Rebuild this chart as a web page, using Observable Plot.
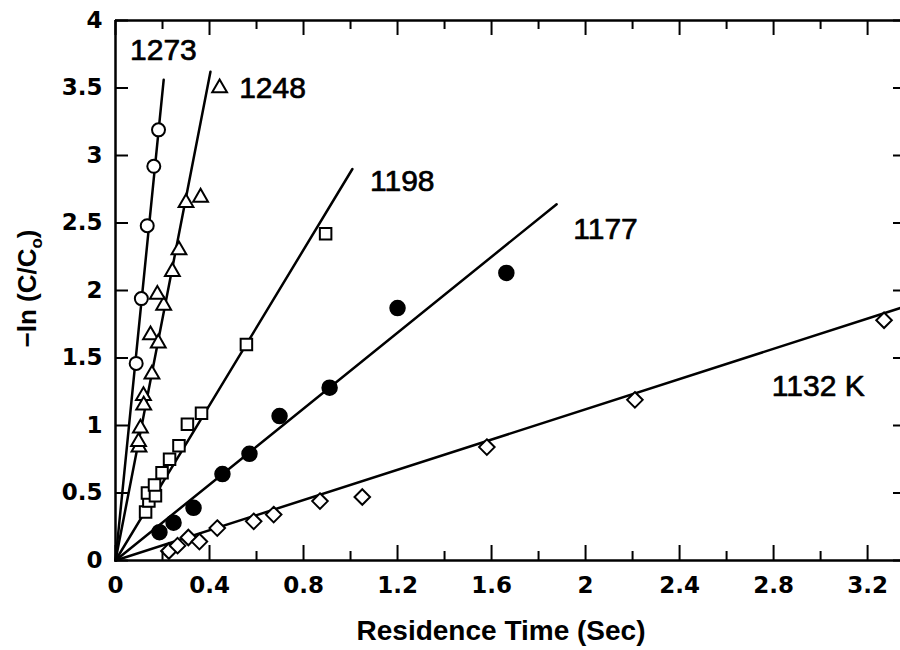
<!DOCTYPE html>
<html>
<head>
<meta charset="utf-8">
<script src="https://cdn.jsdelivr.net/npm/d3@7"></script>
<script src="https://cdn.jsdelivr.net/npm/@observablehq/plot@0.6"></script>
<style>
  html, body { margin: 0; padding: 0; background: #fff; overflow: hidden; }
  #chart { position: relative; width: 900px; height: 650px; }
  #chart svg { display: block; position: absolute; left: 0; top: 0; }
</style>
</head>
<body>
<div id="chart"></div>
<script>
// ---- data ----
const xMajorTicks = [0, 0.4, 0.8, 1.2, 1.6, 2, 2.4, 2.8, 3.2];
const xMinorTicks = [0.2, 0.6, 1.0, 1.4, 1.8, 2.2, 2.6, 3.0];
const yTicks = [0, 0.5, 1, 1.5, 2, 2.5, 3, 3.5, 4];

// 1273 K (open circles)
const t1273 = [0.088, 0.11, 0.135, 0.163, 0.183];
const v1273 = [1.46, 1.94, 2.48, 2.92, 3.19];
// 1248 K (open triangles)
const t1248 = [0.1, 0.098, 0.106, 0.119, 0.12, 0.155, 0.149, 0.182, 0.205, 0.178, 0.242, 0.27, 0.30, 0.362, 0.443];
const v1248 = [0.84, 0.88, 0.98, 1.22, 1.15, 1.38, 1.67, 1.61, 1.89, 1.97, 2.14, 2.30, 2.65, 2.69, 3.50];
// 1198 K (open squares)
const t1198 = [0.128, 0.142, 0.136, 0.17, 0.166, 0.198, 0.23, 0.27, 0.306, 0.366, 0.557, 0.894];
const v1198 = [0.36, 0.44, 0.50, 0.48, 0.56, 0.65, 0.75, 0.85, 1.01, 1.09, 1.60, 2.42];
// 1177 K (filled circles)
const t1177 = [0.187, 0.247, 0.332, 0.455, 0.57, 0.698, 0.911, 1.2, 1.663];
const v1177 = [0.21, 0.28, 0.39, 0.64, 0.79, 1.07, 1.28, 1.87, 2.13];
// 1132 K (open diamonds)
const t1132 = [0.227, 0.264, 0.31, 0.357, 0.433, 0.588, 0.673, 0.87, 1.05, 1.58, 2.21, 3.27];
const v1132 = [0.07, 0.11, 0.17, 0.14, 0.24, 0.29, 0.34, 0.44, 0.47, 0.84, 1.19, 1.78];

// fitted lines through the origin: slope and x at which each line ends
const seriesNames = ["1273", "1248", "1198", "1177", "1132"];
const fitSlopes = [17.37, 8.96, 2.877, 1.406, 0.56];
const fitEndX = [0.205, 0.404, 1.008, 1.877, 3.34];

// curve labels
const labelText = ["1273", "1248", "1198", "1177", "1132 K"];
const labelX = [0.204, 0.668, 1.22, 2.085, 2.99];
const labelY = [3.78, 3.50, 2.81, 2.45, 1.29];

// ---- build tables ----
const pts = (t, v) => t.map((x, i) => ({x, y: v[i]}));
const fitLines = seriesNames.flatMap((s, i) => [
  {s, x: 0, y: 0},
  {s, x: fitEndX[i], y: fitSlopes[i] * fitEndX[i]}
]);
const labels = labelText.map((text, i) => ({text, x: labelX[i], y: labelY[i]}));

const diamond = {
  draw(context, size) {
    const h = Math.sqrt(size / 2);
    context.moveTo(0, -h);
    context.lineTo(h, 0);
    context.lineTo(0, h);
    context.lineTo(-h, 0);
    context.closePath();
  }
};

const W = 900, H = 650, ML = 115, MR = 0, MT = 20, MB = 90;
const X0 = 0, X1 = 3.34, Y0 = 0, Y1 = 4;
const FW = W - ML - MR, FH = H - MT - MB;
// tick lengths (pixels) converted to data units via the frame size
const kx = (X1 - X0) / FW, ky = (Y1 - Y0) / FH;
const FONT = "'Liberation Sans', Arial, Helvetica, sans-serif";
const TICKFONT = "'DejaVu Sans', 'Liberation Sans', sans-serif";
const dotStyle = {x: "x", y: "y", stroke: "black", strokeWidth: 2};
const tickStyle = {stroke: "black", strokeWidth: 2};

const common = {
  width: W, height: H,
  marginTop: MT, marginBottom: MB, marginLeft: ML, marginRight: MR,
  x: {domain: [X0, X1], label: null},
  y: {domain: [Y0, Y1], label: null}
};

// layer 1: data (lines, points, curve labels)
const dataPlot = Plot.plot({
  ...common,
  x: {...common.x, axis: null},
  y: {...common.y, axis: null},
  style: {fontFamily: FONT, background: "white"},
  marks: [
    Plot.line(fitLines, {x: "x", y: "y", z: "s", stroke: "black", strokeWidth: 2.5}),
    Plot.dot(pts(t1273, v1273), {...dotStyle, symbol: "circle", r: 6.5, fill: "white"}),
    Plot.dot(pts(t1248, v1248), {...dotStyle, symbol: "triangle", r: 5.5, fill: "white"}),
    Plot.dot(pts(t1198, v1198), {...dotStyle, symbol: "square", r: 6.5, fill: "white"}),
    Plot.dot(pts(t1177, v1177), {x: "x", y: "y", symbol: "circle", r: 7.5, fill: "black", stroke: "black"}),
    Plot.dot(pts(t1132, v1132), {...dotStyle, symbol: diamond, r: 6.2, fill: "white"}),
    Plot.text(labels, {x: "x", y: "y", text: "text", fontSize: 30, fontWeight: "normal",
                       fill: "black", stroke: "black", strokeWidth: 0.7})
  ]
});

// layer 2 (on top): frame, inward ticks, tick labels, axis titles
const axesPlot = Plot.plot({
  ...common,
  style: {fontFamily: FONT, fontSize: "24px", fontWeight: "bold", color: "black", background: "transparent"},
  marks: [
    Plot.ruleX([X0], {stroke: "black", strokeWidth: 2.5}),
    Plot.ruleY([Y0, Y1], {stroke: "black", strokeWidth: 2.5}),
    Plot.ruleX(xMajorTicks, {x: d => d, y1: Y0, y2: Y0 + 15 * ky, ...tickStyle}),
    Plot.ruleX(xMinorTicks, {x: d => d, y1: Y0, y2: Y0 + 9 * ky, ...tickStyle}),
    Plot.ruleX(xMajorTicks, {x: d => d, y1: Y1, y2: Y1 - 15 * ky, ...tickStyle}),
    Plot.ruleX(xMinorTicks, {x: d => d, y1: Y1, y2: Y1 - 9 * ky, ...tickStyle}),
    Plot.ruleY(yTicks, {y: d => d, x1: X0, x2: X0 + 13 * kx, ...tickStyle}),
    Plot.ruleY(yTicks, {y: d => d, x1: X1, x2: X1 - 7 * kx, ...tickStyle}),
    Plot.axisX({anchor: "bottom", ticks: xMajorTicks, tickSize: 0, tickPadding: 16,
                tickFormat: d => String(d), fontSize: 23, fontWeight: "bold", fontFamily: TICKFONT, label: null}),
    Plot.axisY({anchor: "left", ticks: yTicks, tickSize: 0, tickPadding: 13,
                tickFormat: d => String(d), fontSize: 23, fontWeight: "bold", fontFamily: TICKFONT, label: null}),
    Plot.text(["Residence Time (Sec)"], {frameAnchor: "bottom", textAnchor: "middle", lineAnchor: "middle",
                dx: -7, dy: 71, fontSize: 28, fontWeight: "bold", fill: "black"}),
    Plot.text(["\u2212ln (C/C\u2092)"], {frameAnchor: "left", textAnchor: "middle", lineAnchor: "middle",
                rotate: -90, dx: -88, dy: -2, fontSize: 26, fontWeight: "bold", fill: "black"})
  ]
});

const chart = document.getElementById("chart");
chart.appendChild(dataPlot);
chart.appendChild(axesPlot);

// render the subscript of C0 as a real subscript
d3.select(axesPlot).selectAll("text").filter(function () {
  return this.textContent.includes("C/C");
}).each(function () {
  const t = d3.select(this);
  t.text(null);
  t.append("tspan").text("\u2212ln (C/C");
  t.append("tspan").attr("dy", 6).attr("font-size", 17).text("o");
  t.append("tspan").attr("dy", -6).text(")");
});
</script>
</body>
</html>
